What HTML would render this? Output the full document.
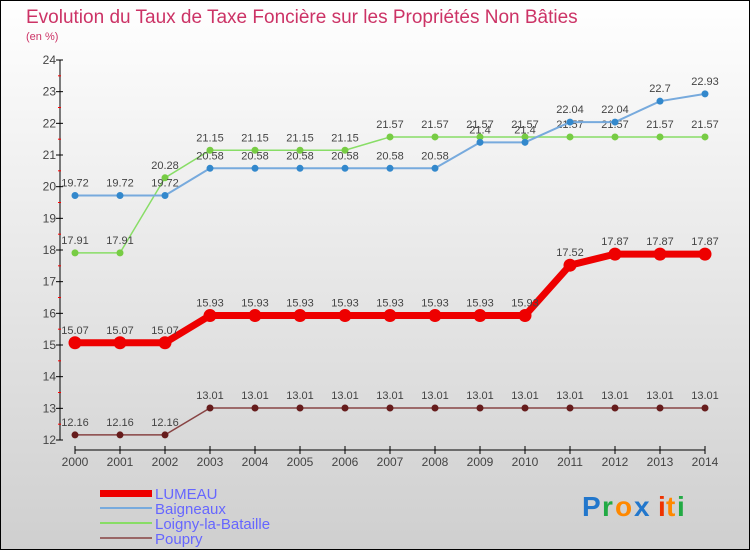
<!DOCTYPE html>
<html><head><meta charset="utf-8"><style>
body{margin:0;}
svg text{font-family:"Liberation Sans",sans-serif;}
</style></head><body>
<svg id="chart" width="750" height="550" xmlns="http://www.w3.org/2000/svg">
<defs><linearGradient id="bg" x1="0" y1="0" x2="0" y2="1"><stop offset="0" stop-color="#ffffff"/><stop offset="1" stop-color="#cfcfcf"/></linearGradient></defs>
<rect x="0.5" y="0.5" width="749" height="549" fill="url(#bg)" stroke="#000"/>
<text x="26" y="23" font-size="19" fill="#cc3366">Evolution du Taux de Taxe Foncière sur les Propriétés Non Bâties</text>
<text x="26" y="40" font-size="11" fill="#cc3366">(en %)</text>
<g id="axes"></g>
<g id="series"></g>
<g>
<rect x="100" y="490" width="52" height="7" fill="#ee0000"/>
<text x="155" y="499" font-size="15" fill="#6666ff">LUMEAU</text>
<rect x="100" y="507" width="52" height="2" fill="#77aadd"/>
<text x="155" y="514" font-size="15" fill="#6666ff">Baigneaux</text>
<rect x="100" y="522" width="52" height="2" fill="#88dd66"/>
<text x="155" y="529" font-size="15" fill="#6666ff">Loigny-la-Bataille</text>
<rect x="100" y="537" width="52" height="2" fill="#996666"/>
<text x="155" y="544" font-size="15" fill="#6666ff">Poupry</text>
</g>
<g font-size="28" font-weight="bold">
<text x="582" y="516" fill="#2277cc">P</text><text x="602" y="516" fill="#22aa44">r</text><text x="615" y="516" fill="#ff8800">o</text><text x="634" y="516" fill="#2277cc">x</text><text x="658" y="516" fill="#ee3300">i</text><text x="666" y="516" fill="#ff8800">t</text><text x="677" y="516" fill="#22aa44">i</text>
</g>
</svg>
<script>
const years=[2000,2001,2002,2003,2004,2005,2006,2007,2008,2009,2010,2011,2012,2013,2014];
const lumeau=[15.07,15.07,15.07,15.93,15.93,15.93,15.93,15.93,15.93,15.93,15.93,17.52,17.87,17.87,17.87];
const baigneaux=[19.72,19.72,19.72,20.58,20.58,20.58,20.58,20.58,20.58,21.4,21.4,22.04,22.04,22.7,22.93];
const loigny=[17.91,17.91,20.28,21.15,21.15,21.15,21.15,21.57,21.57,21.57,21.57,21.57,21.57,21.57,21.57];
const poupry=[12.16,12.16,12.16,13.01,13.01,13.01,13.01,13.01,13.01,13.01,13.01,13.01,13.01,13.01,13.01];
const yTicks=[12,13,14,15,16,17,18,19,20,21,22,23,24];
const NS="http://www.w3.org/2000/svg";
const xS=i=>75+i*45;
const yS=v=>440-(v-12)*(380/12);
function mk(t,a,p){const e=document.createElementNS(NS,t);for(const k in a)e.setAttribute(k,a[k]);p.appendChild(e);return e;}
const ax=document.getElementById('axes');
let yl=mk('line',{x1:60,y1:yS(24),x2:60,y2:yS(12),stroke:'#000'},ax);


yTicks.forEach(t=>{
 mk('line',{x1:56,y1:yS(t),x2:63,y2:yS(t),stroke:'#000'},ax);
 if(t<24)mk('line',{x1:58,y1:yS(t+0.5),x2:61,y2:yS(t+0.5),stroke:'#ff0000'},ax);
 const tx=mk('text',{x:56,y:yS(t)+4,'font-size':12,fill:'#444','text-anchor':'end'},ax);tx.textContent=t;
 
 
});
let xl=mk('line',{x1:75,y1:450,x2:705,y2:450,stroke:'#000'},ax);


years.forEach((y,i)=>{
 mk('line',{x1:xS(i),y1:446,x2:xS(i),y2:454,stroke:'#000'},ax);
 const tx=mk('text',{x:xS(i),y:466,'font-size':12,fill:'#444','text-anchor':'middle'},ax);tx.textContent=y;
 
 
});
const sg=document.getElementById('series');
function draw(name,vals,color,lw,r,dot){
 const g=mk('g',{},sg);
 
 
 mk('polyline',{points:vals.map((v,i)=>xS(i)+','+yS(v)).join(' '),fill:'none',stroke:color,'stroke-width':lw},g);
 vals.forEach((v,i)=>{
  const c=mk('circle',{cx:xS(i),cy:yS(v),r:r,fill:dot},g);
  
  
  const t=mk('text',{x:xS(i),y:yS(v)-9,'font-size':11,fill:'#444','text-anchor':'middle'},g);t.textContent=v;
  
  
 });
}
draw('poupry',poupry,'#884444',1.5,3.5,'#661c1c');
draw('loigny',loigny,'#88dd66',1.5,3.5,'#77cc44');
draw('baigneaux',baigneaux,'#77aadd',2,3.5,'#3388cc');
draw('lumeau',lumeau,'#ee0000',7,6.5,'#ee0000');
</script>
</body></html>
